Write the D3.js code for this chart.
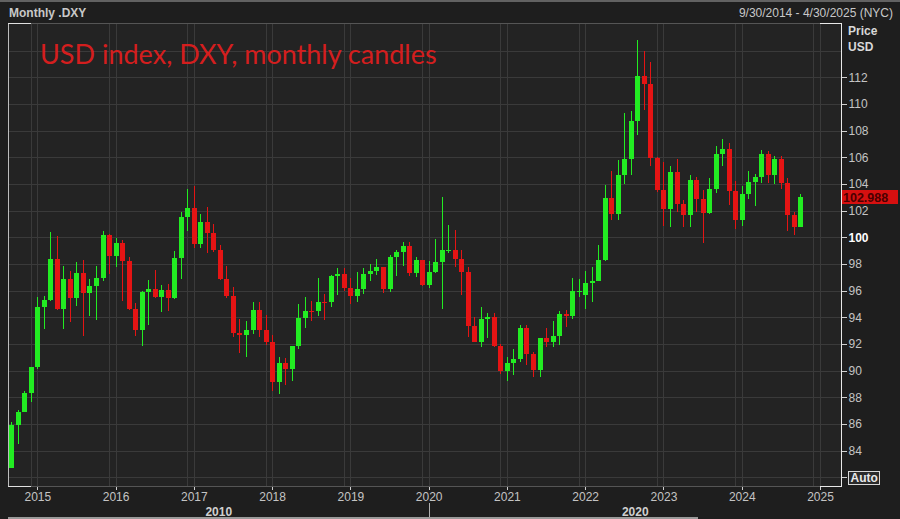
<!DOCTYPE html>
<html><head><meta charset="utf-8">
<script src="https://cdn.jsdelivr.net/npm/d3@7"></script>
<style>html,body{margin:0;padding:0;background:#1e1e1e;overflow:hidden}</style>
</head><body><svg id="chart" width="900" height="519"></svg>
<script>
// ---------- DATA (monthly candles, Sep 2014 .. Oct 2024) ----------
const startMonth = new Date(2014, 8, 1);
const open = [
  82.73, 85.94, 86.89, 88.36,
  90.27, 94.80, 95.30, 98.36, 94.60, 96.91, 95.47, 97.34, 95.84, 96.35, 96.95, 100.17,
  98.63, 99.61, 98.20, 94.59, 93.06, 95.90, 96.14, 95.53, 96.02, 95.45, 98.43, 101.50,
  102.21, 99.51, 101.12, 100.35, 99.05, 96.91, 95.63, 92.86, 92.67, 93.08, 94.55, 93.05,
  92.12, 89.13, 90.61, 90.15, 91.84, 93.98, 94.47, 94.45, 95.14, 95.13, 97.13, 97.27,
  96.17, 95.58, 96.16, 97.28, 97.48, 97.75, 96.13, 98.52, 98.92, 99.38, 97.35, 98.27,
  96.39, 97.39, 98.13, 98.98, 99.02, 98.34, 97.39, 93.35, 92.14, 93.89, 94.04, 91.87,
  89.94, 90.58, 90.88, 93.23, 91.28, 90.03, 92.44, 92.17, 92.63, 94.23, 94.12, 95.97,
  95.67, 96.54, 96.71, 98.31, 102.96, 101.75, 104.69, 105.90, 108.70, 112.12, 111.53, 105.95,
  103.52, 102.10, 104.87, 102.51, 101.66, 104.33, 102.91, 101.86, 103.62, 106.22, 106.66, 103.50,
  101.33, 103.27, 104.16, 104.55, 106.22, 104.67, 105.87, 104.10, 101.70, 100.78
];
const high = [
  86.14, 87.05, 88.44, 90.30,
  95.53, 95.60, 100.39, 100.07, 97.87, 97.47, 98.15, 98.30, 96.90, 97.82, 100.51, 100.25,
  99.96, 99.81, 98.50, 95.06, 96.01, 96.81, 97.57, 96.45, 96.51, 98.97, 101.90, 103.65,
  103.82, 101.76, 102.26, 101.00, 99.40, 97.87, 96.30, 93.87, 93.72, 95.15, 95.15, 94.20,
  92.64, 91.00, 90.93, 91.88, 95.03, 95.53, 95.24, 96.98, 95.74, 97.20, 97.69, 97.71,
  96.96, 97.37, 97.71, 98.00, 98.37, 97.81, 98.69, 99.04, 99.67, 99.67, 98.54, 98.31,
  98.19, 99.91, 102.99, 100.93, 100.56, 99.05, 97.81, 93.99, 94.74, 94.31, 94.30, 91.97,
  91.05, 91.60, 93.44, 93.44, 91.43, 92.45, 93.19, 93.73, 94.50, 94.56, 96.94, 96.91,
  97.44, 97.74, 99.42, 103.94, 105.00, 105.79, 109.29, 109.48, 114.78, 113.95, 113.15, 106.02,
  105.63, 105.36, 105.88, 102.80, 104.70, 104.50, 103.57, 104.44, 106.84, 107.35, 107.11, 104.26,
  103.82, 104.97, 104.73, 106.52, 106.49, 106.13, 106.13, 104.44, 101.92, 103.27
];
const low = [
  82.67, 84.47, 86.87, 87.63,
  90.12, 93.15, 95.20, 94.52, 93.13, 93.63, 94.84, 92.62, 94.08, 93.80, 96.70, 97.22,
  97.80, 95.25, 94.55, 92.62, 91.88, 93.43, 95.42, 94.40, 94.47, 95.40, 96.86, 100.50,
  99.23, 99.23, 98.85, 98.88, 96.80, 95.47, 92.55, 91.33, 91.01, 92.75, 92.50, 91.90,
  88.44, 88.25, 88.94, 89.23, 91.65, 93.20, 93.70, 94.08, 93.81, 94.79, 95.68, 95.97,
  94.97, 95.16, 95.74, 96.75, 97.18, 95.84, 95.88, 97.13, 97.87, 97.11, 97.06, 96.36,
  96.21, 97.35, 94.65, 98.81, 97.80, 95.71, 92.55, 92.13, 91.75, 92.47, 91.74, 89.72,
  89.21, 89.68, 90.63, 90.42, 89.53, 89.53, 91.78, 91.78, 91.94, 93.28, 93.87, 95.53,
  94.63, 95.14, 96.69, 98.26, 101.30, 101.30, 104.00, 104.64, 107.69, 109.53, 105.32, 103.39,
  100.82, 100.80, 101.92, 100.79, 100.78, 101.92, 99.57, 101.74, 103.34, 105.34, 102.46, 100.62,
  100.82, 102.84, 102.35, 104.04, 104.08, 103.99, 103.65, 100.51, 100.16, 100.76
];
const close = [
  85.94, 86.89, 88.36, 90.27,
  94.80, 95.30, 98.36, 94.60, 96.91, 95.47, 97.34, 95.84, 96.35, 96.95, 100.17, 98.63,
  99.61, 98.20, 94.59, 93.06, 95.90, 96.14, 95.53, 96.02, 95.45, 98.43, 101.50, 102.21,
  99.51, 101.12, 100.35, 99.05, 96.91, 95.63, 92.86, 92.67, 93.08, 94.55, 93.05, 92.12,
  89.13, 90.61, 90.15, 91.84, 93.98, 94.47, 94.45, 95.14, 95.13, 97.13, 97.27, 96.17,
  95.58, 96.16, 97.28, 97.48, 97.75, 96.13, 98.52, 98.92, 99.38, 97.35, 98.27, 96.39,
  97.39, 98.13, 99.05, 99.02, 98.34, 97.39, 93.35, 92.14, 93.89, 94.04, 91.87, 89.94,
  90.58, 90.88, 93.23, 91.28, 90.03, 92.44, 92.17, 92.63, 94.23, 94.12, 95.97, 96.00,
  96.54, 96.71, 98.31, 102.96, 101.75, 104.69, 105.90, 108.70, 112.12, 111.53, 105.95, 103.52,
  102.10, 104.87, 102.51, 101.66, 104.33, 102.91, 101.86, 103.62, 106.22, 106.66, 103.50, 101.33,
  103.27, 104.16, 104.55, 106.22, 104.67, 105.87, 104.10, 101.70, 100.78, 102.988
];
const priceTicks = [82, 84, 86, 88, 90, 92, 94, 96, 98, 100, 102, 104, 106, 108, 110, 112];
const gridPrices = [82, 84, 86, 88, 90, 92, 94, 96, 98, 100, 102, 104, 106, 108, 110, 112, 114];
const yearLabels = [2015, 2016, 2017, 2018, 2019, 2020, 2021, 2022, 2023, 2024, 2025];
const decadeLabels = ["2010", "2020"];
const lastPriceLabel = "102.988";
const titleText = "USD index, DXY, monthly candles";
const headerLeft = "Monthly .DXY";
const headerRight = "9/30/2014 - 4/30/2025 (NYC)";

// ---------- LAYOUT ----------
const W = 900, H = 519;
const plot = {left: 8, right: 841, top: 23, bottom: 486};
const GREEN = "#22ec22", RED = "#e51414";
const GRID = "#3a3a3a";
const LABEL = "#c4c4c4";
const FONT = "'Liberation Sans', Arial, sans-serif";

const svg = d3.select("#chart");
svg.append("rect").attr("width", W).attr("height", H).attr("fill", "#1e1e1e");
svg.append("rect").attr("x", 0).attr("y", 0).attr("width", W).attr("height", 2).attr("fill", "#626262");
svg.append("rect").attr("x", plot.left).attr("y", plot.top)
  .attr("width", plot.right - plot.left).attr("height", plot.bottom - plot.top).attr("fill", "#232323");

const monthIndex = d => d3.timeMonth.count(startMonth, d);
const jan2015 = monthIndex(new Date(2015, 0, 1));
const jan2025 = monthIndex(new Date(2025, 0, 1));
const x = d3.scaleLinear().domain([jan2015, jan2025]).range([37.3, 820]);
const y = d3.scaleLinear().domain([100, 112]).range([237.3, 77.3]);

const candles = open.map((o, i) => ({i, o, h: high[i], l: low[i], c: close[i]}));

// grid
const grid = svg.append("g").attr("shape-rendering", "crispEdges");
grid.selectAll(".hg").data(gridPrices).join("line")
  .attr("x1", plot.left).attr("x2", plot.right)
  .attr("y1", d => Math.round(y(d)) + 0.5).attr("y2", d => Math.round(y(d)) + 0.5)
  .attr("stroke", GRID);
const vgrid = [];
yearLabels.forEach(yr => {
  const k = monthIndex(new Date(yr, 0, 1));
  vgrid.push(k, k - 1);
});
grid.selectAll(".vg").data(vgrid).join("line")
  .attr("x1", d => Math.round(x(d)) + 0.5).attr("x2", d => Math.round(x(d)) + 0.5)
  .attr("y1", plot.top).attr("y2", plot.bottom)
  .attr("stroke", GRID);

// title
svg.append("text").attr("x", 40).attr("y", 64)
  .attr("font-family", "Lato, 'Open Sans', sans-serif").attr("font-size", 27)
  .attr("fill", "#d41e1e").text(titleText);

// candles
const cg = svg.append("g").attr("shape-rendering", "crispEdges");
cg.selectAll(".wick").data(candles).join("line")
  .attr("x1", d => Math.round(x(d.i)) + 0.5).attr("x2", d => Math.round(x(d.i)) + 0.5)
  .attr("y1", d => y(d.h)).attr("y2", d => y(d.l))
  .attr("stroke", d => d.c >= d.o ? GREEN : RED).attr("stroke-width", 1);
cg.selectAll(".body").data(candles).join("rect")
  .attr("x", d => Math.round(x(d.i)) - 2)
  .attr("width", 5)
  .attr("y", d => y(Math.max(d.o, d.c)))
  .attr("height", d => Math.max(1, Math.abs(y(d.o) - y(d.c))))
  .attr("fill", d => d.c >= d.o ? GREEN : RED);

// frame
const fr = svg.append("g").attr("shape-rendering", "crispEdges");
fr.append("line").attr("x1", plot.left).attr("x2", plot.right).attr("y1", plot.top + 0.5).attr("y2", plot.top + 0.5).attr("stroke", "#555");
fr.append("line").attr("x1", plot.left).attr("x2", plot.right).attr("y1", plot.bottom + 0.5).attr("y2", plot.bottom + 0.5).attr("stroke", "#555");
fr.append("line").attr("x1", plot.left + 0.5).attr("x2", plot.left + 0.5).attr("y1", plot.top).attr("y2", plot.bottom + 1).attr("stroke", "#bdbdbd");
fr.append("line").attr("x1", plot.right + 0.5).attr("x2", plot.right + 0.5).attr("y1", plot.top).attr("y2", plot.bottom + 1).attr("stroke", "#e8e8e8");
const stubL = Math.round(x(jan2015 - 1)), stubR = Math.round(x(jan2025));
[plot.top, plot.bottom].forEach(yy => {
  fr.append("line").attr("x1", plot.left).attr("x2", stubL).attr("y1", yy + 0.5).attr("y2", yy + 0.5).attr("stroke", "#e0e0e0");
  fr.append("line").attr("x1", stubR).attr("x2", plot.right + 1).attr("y1", yy + 0.5).attr("y2", yy + 0.5).attr("stroke", "#e8e8e8");
});

// right axis
const yAxis = svg.append("g").attr("transform", `translate(${plot.right + 0.5},0)`)
  .call(d3.axisRight(y).tickValues(priceTicks).tickSize(5).tickPadding(2)
    .tickFormat(d => d >= 84 ? d : ""));
yAxis.select(".domain").remove();
yAxis.selectAll(".tick line").attr("stroke", "#d0d0d0").attr("shape-rendering", "crispEdges");
yAxis.selectAll(".tick text").attr("fill", d => d === 100 ? "#ffffff" : LABEL)
  .attr("font-weight", d => d === 100 ? "bold" : "normal")
  .attr("font-family", FONT).attr("font-size", 12);

// bottom axis
const xAxis = svg.append("g").attr("transform", `translate(0,${plot.bottom + 0.5})`)
  .call(d3.axisBottom(x).tickValues(yearLabels.map(yr => monthIndex(new Date(yr, 0, 1))))
    .tickSize(3).tickPadding(3).tickFormat((d, i) => yearLabels[i]));
xAxis.select(".domain").remove();
xAxis.selectAll(".tick line").attr("stroke", "#cfcfcf").attr("shape-rendering", "crispEdges");
xAxis.selectAll(".tick text").attr("fill", LABEL).attr("font-family", FONT).attr("font-size", 12);

// decade row
const sep = Math.round(x(monthIndex(new Date(2020, 0, 1)))) + 0.5;
svg.append("line").attr("x1", sep).attr("x2", sep).attr("y1", 503).attr("y2", 519).attr("stroke", "#b0b0b0");
const decadeCenters = [(plot.left + sep) / 2, (sep + plot.right) / 2];
svg.selectAll(".dec").data(decadeLabels).join("text")
  .attr("x", (d, i) => decadeCenters[i]).attr("y", 516)
  .attr("text-anchor", "middle").attr("font-family", FONT).attr("font-weight", "bold")
  .attr("font-size", 12).attr("fill", "#d0d0d0").text(d => d);
svg.append("rect").attr("x", plot.left).attr("y", 517).attr("width", 690).attr("height", 2).attr("fill", "#9a9a9a");

// headers
svg.append("text").attr("x", 9).attr("y", 17).attr("font-family", FONT).attr("font-weight", "bold")
  .attr("font-size", 12).attr("fill", "#c8c8c8").text(headerLeft);
svg.append("text").attr("x", 893).attr("y", 17).attr("text-anchor", "end").attr("font-family", FONT)
  .attr("font-size", 12).attr("fill", "#c8c8c8").text(headerRight);
svg.append("text").attr("x", 848).attr("y", 35).attr("font-family", FONT).attr("font-weight", "bold")
  .attr("font-size", 12).attr("fill", "#d8d8d8").text("Price");
svg.append("text").attr("x", 848).attr("y", 51).attr("font-family", FONT).attr("font-weight", "bold")
  .attr("font-size", 12).attr("fill", "#d8d8d8").text("USD");

// last price box
const lp = y(close[close.length - 1]);
svg.append("rect").attr("x", 842).attr("y", Math.round(lp) - 7).attr("width", 56).attr("height", 14)
  .attr("fill", "#d61010");
svg.append("text").attr("x", 843).attr("y", Math.round(lp) + 4.5).attr("font-family", FONT)
  .attr("font-weight", "bold").attr("font-size", 12.5).attr("fill", "#4a0000").text(lastPriceLabel);

// Auto box
const ay = Math.round(y(82));
svg.append("rect").attr("x", 848.5).attr("y", ay - 5.5).attr("width", 31).attr("height", 13)
  .attr("fill", "#2a2a2a").attr("stroke", "#d8d8d8");
svg.append("text").attr("x", 850.5).attr("y", ay + 5).attr("font-family", FONT).attr("font-weight", "bold")
  .attr("font-size", 12).attr("fill", "#e8e8e8").text("Auto");
</script>
</body></html>
